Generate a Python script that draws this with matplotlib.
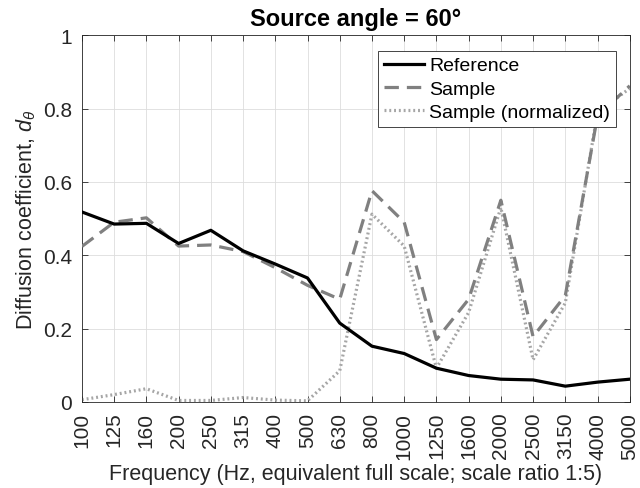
import numpy as np
import matplotlib
matplotlib.use('Agg')
import matplotlib.pyplot as plt

plt.rcParams['font.family'] = ['Liberation Sans', 'DejaVu Sans']
plt.rcParams['mathtext.fontset'] = 'custom'
plt.rcParams['mathtext.it'] = 'Liberation Sans:italic'
plt.rcParams['mathtext.rm'] = 'Liberation Sans'

freqs = ['100', '125', '160', '200', '250', '315', '400', '500', '630', '800',
         '1000', '1250', '1600', '2000', '2500', '3150', '4000', '5000']

reference = [0.518, 0.485, 0.487, 0.432, 0.468, 0.412, 0.376, 0.338, 0.215, 0.152,
             0.132, 0.092, 0.072, 0.062, 0.060, 0.043, 0.054, 0.062]
sample = [0.424, 0.49, 0.502, 0.425, 0.428, 0.41, 0.366, 0.318, 0.28, 0.576,
          0.49, 0.17, 0.28, 0.55, 0.178, 0.29, 0.78, 0.862]
sample_norm = [0.006, 0.02, 0.036, 0.004, 0.004, 0.012, 0.005, 0.003, 0.085, 0.512,
               0.425, 0.092, 0.244, 0.53, 0.115, 0.27, 0.79, 0.855]

x = np.arange(len(freqs))

fig = plt.figure(figsize=(6.4, 4.89), dpi=100)
ax = fig.add_axes([0.128, 0.176, 0.856, 0.75])

ax.plot(x, reference, color='black', linewidth=2.3, label='Reference', zorder=4)
ax.plot(x, sample, color='#808080', linewidth=2.3, linestyle=(0, (4.5, 2.5)), label='Sample', zorder=3)
ax.plot(x, sample_norm, color='#a6a6a6', linewidth=2.3, linestyle=(0, (0.6, 0.9)),
        label='Sample (normalized)', zorder=2)

ax.set_xlim(0, len(freqs) - 1)
ax.set_ylim(0, 1)
ax.set_xticks(x)
ax.set_xticklabels(freqs, rotation=90)
ax.set_yticks([0, 0.2, 0.4, 0.6, 0.8, 1])
ax.set_yticklabels(['0', '0.2', '0.4', '0.6', '0.8', '1'])

ax.tick_params(direction='in', top=True, right=True, labelsize=15, colors='#262626',
               length=4, width=0.6)
ax.tick_params(axis='x', pad=7)
ax.tick_params(axis='y', pad=7)
for sp in ax.spines.values():
    sp.set_color('#262626')
    sp.set_linewidth(0.6)
ax.grid(True, color='#dddddd', linewidth=0.6)
ax.set_axisbelow(True)

ax.set_xlabel('Frequency (Hz, equivalent full scale; scale ratio 1:5)', fontsize=15.5,
              color='#262626', labelpad=3)
ax.set_ylabel(r'Diffusion coefficient, $d_{\theta}$', fontsize=15.5, color='#262626', labelpad=4)
ax.set_title('Source angle = 60°', fontsize=17, fontweight='bold', pad=7)

leg = ax.legend(loc='upper right', bbox_to_anchor=(0.975, 0.957), fontsize=14,
                frameon=True, fancybox=False, framealpha=1, edgecolor='#262626',
                handlelength=2.1, handletextpad=0.25, borderpad=0.3, labelspacing=0.3,
                borderaxespad=0)
leg.get_frame().set_linewidth(0.6)
leg.set_zorder(10)

fig.savefig('out.png', dpi=100)
